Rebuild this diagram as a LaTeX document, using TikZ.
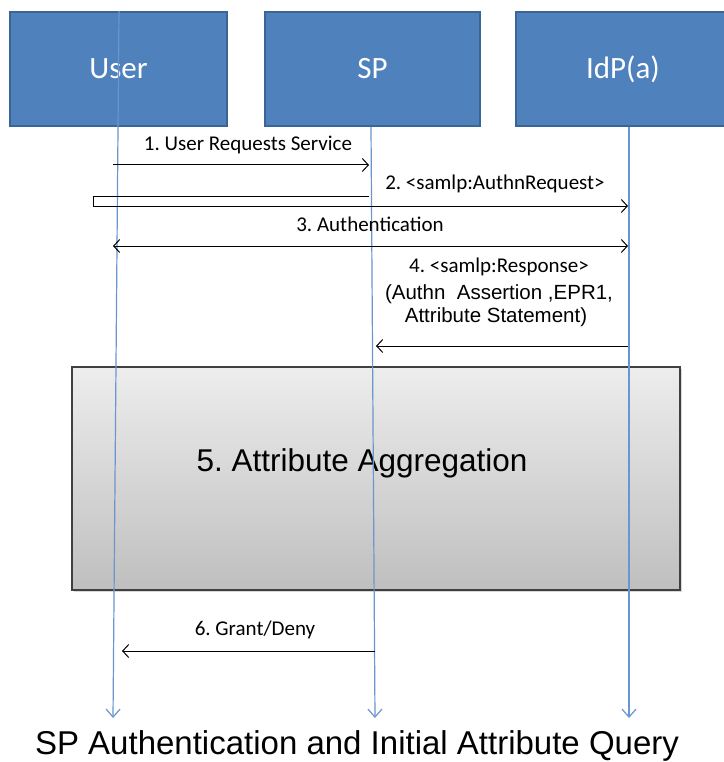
\documentclass[tikz,border=0pt]{standalone}
\usepackage{fontspec}
\setmainfont{Liberation Sans}
\newfontfamily\calib{Carlito}
\usetikzlibrary{arrows.meta,shadows}
\frenchspacing
\definecolor{boxblue}{HTML}{4F81BD}
\definecolor{boxedge}{HTML}{3A6594}
\definecolor{lifeblue}{HTML}{6A95CE}
\definecolor{aggtop}{HTML}{EDEDED}
\definecolor{aggbot}{HTML}{BFBFBF}
\definecolor{aggedge}{HTML}{404040}
\begin{document}
\begin{tikzpicture}[x=1pt,y=-1pt,
 actor/.style={draw=boxedge,line width=1.5pt,fill=boxblue,minimum height=114pt,inner sep=0pt,font=\calib\fontsize{31}{36}\selectfont,text=white},
 life/.style={draw=lifeblue,line width=1.2pt,-{Straight Barb[length=8pt,width=14pt]}},
 msg/.style={draw=black,line width=1pt,-{Straight Barb[length=6pt,width=13pt]}},
 dmsg/.style={draw=black,line width=1pt,{Straight Barb[length=6pt,width=13pt]}-{Straight Barb[length=6pt,width=13pt]}},
 lbl/.style={font=\calib\fontsize{21}{24}\selectfont,inner sep=0pt},
 albl/.style={font=\fontsize{20.5}{24}\selectfont,inner sep=0pt},
]
\useasboundingbox (0,0) rectangle (723,762);
\fill[white] (0,0) rectangle (723,762);
% actors
\node[actor,minimum width=217pt] (user) at (118.5,69) {User};
\node[actor,minimum width=215pt] (sp) at (372.5,69) {SP};
\node[actor,minimum width=214pt] (idp) at (623,69) {IdP(a)};
% aggregation box
\node[draw=aggedge,line width=1.5pt,top color=aggtop,bottom color=aggbot,
      minimum width=608pt,minimum height=223pt,inner sep=0pt,
      drop shadow={shadow xshift=2pt,shadow yshift=-2pt,opacity=0.3}] (agg) at (376,478.5) {};
\node[font=\fontsize{31.5}{36}\selectfont,inner sep=0pt] (aggtxt) at (362,463) {5. Attribute Aggregation};
% lifeline ends
\coordinate (ue) at (113,718);
\coordinate (se) at (375,718);
\coordinate (ie) at (629,718);
\draw[life] ([xshift=0.5pt]user.north) -- (ue);
\draw[life] ([xshift=-1.5pt]sp.south) -- (se);
\draw[life] ([xshift=6pt]idp.south) -- (ie);
% message end points
\coordinate (m1a) at (113,165); \coordinate (m1b) at (369,165);
\coordinate (m2a) at (369,196); \coordinate (m2k) at (93,196); \coordinate (m2l) at (93,206); \coordinate (m2b) at (628,206);
\coordinate (m3a) at (113,246); \coordinate (m3b) at (628,246);
\coordinate (m4a) at (628,346); \coordinate (m4b) at (376,346);
\coordinate (m6a) at (375,651); \coordinate (m6b) at (122,651);
% messages
\draw[msg] (m1a) -- (m1b);
\node[lbl] (l1) at (248,145) {1. User Requests Service};
\draw[msg] (m2a) -- (m2k) -- (m2l) -- (m2b);
\node[lbl] (l2) at (495,184) {2. <samlp:AuthnRequest>};
\draw[dmsg] (m3a) -- (m3b);
\node[lbl] (l3) at (370,224) {3. Authentication};
\node[lbl] (l4a) at (499,267) {4. <samlp:Response>};
\node[albl] (l4b) at (499,294) {(Authn\ \ Assertion ,EPR1,};
\node[albl] (l4c) at (496,317) {Attribute Statement)};
\draw[msg] (m4a) -- (m4b);
\draw[msg] (m6a) -- (m6b);
\node[lbl] (l6) at (255,630) {6. Grant/Deny};
% title
\node[font=\fontsize{33}{38}\selectfont,inner sep=0pt] (title) at (357,746) {SP Authentication and Initial Attribute Query};
\end{tikzpicture}
\end{document}
